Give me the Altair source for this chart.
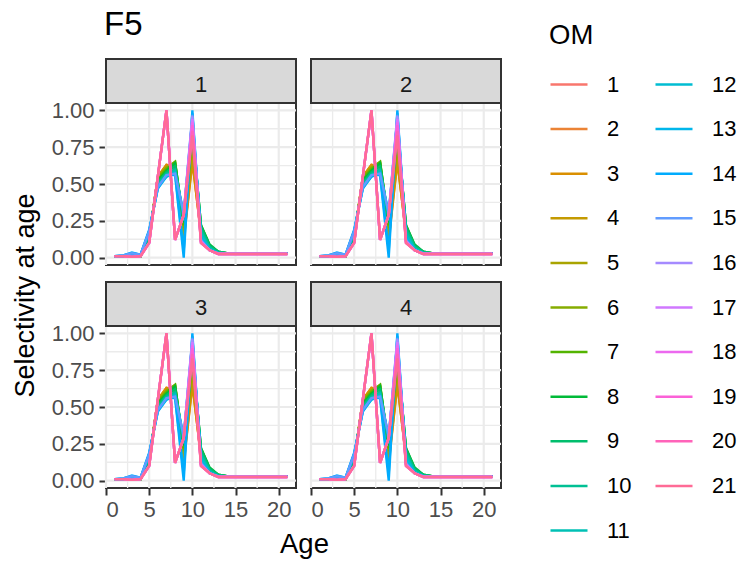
import math
import altair as alt
import pandas as pd

# ---------------- data ----------------
ages = list(range(1, 22))
panels = ["1", "2", "3", "4"]
om_labels = [str(i) for i in range(1, 22)]

om01 = [0.01, 0.01, 0.010, 0.010, 0.12, 0.54, 0.62, 0.60, 0.14, 0.68, 0.16, 0.06, 0.030, 0.03, 0.03, 0.03, 0.03, 0.03, 0.03, 0.03, 0.03]
om02 = [0.01, 0.01, 0.010, 0.010, 0.12, 0.55, 0.63, 0.61, 0.13, 0.66, 0.16, 0.06, 0.030, 0.03, 0.03, 0.03, 0.03, 0.03, 0.03, 0.03, 0.03]
om03 = [0.01, 0.01, 0.010, 0.010, 0.12, 0.55, 0.63, 0.62, 0.12, 0.65, 0.17, 0.06, 0.030, 0.03, 0.03, 0.03, 0.03, 0.03, 0.03, 0.03, 0.03]
om04 = [0.01, 0.01, 0.010, 0.010, 0.13, 0.55, 0.62, 0.63, 0.15, 0.72, 0.18, 0.07, 0.030, 0.03, 0.03, 0.03, 0.03, 0.03, 0.03, 0.03, 0.03]
om05 = [0.01, 0.01, 0.015, 0.010, 0.13, 0.54, 0.61, 0.64, 0.18, 0.76, 0.19, 0.07, 0.030, 0.03, 0.03, 0.03, 0.03, 0.03, 0.03, 0.03, 0.03]
om06 = [0.01, 0.01, 0.015, 0.010, 0.14, 0.54, 0.61, 0.65, 0.20, 0.80, 0.20, 0.08, 0.035, 0.03, 0.03, 0.03, 0.03, 0.03, 0.03, 0.03, 0.03]
om07 = [0.01, 0.01, 0.020, 0.010, 0.14, 0.53, 0.60, 0.65, 0.22, 0.84, 0.22, 0.08, 0.040, 0.03, 0.03, 0.03, 0.03, 0.03, 0.03, 0.03, 0.03]
om08 = [0.01, 0.01, 0.020, 0.010, 0.15, 0.52, 0.59, 0.64, 0.24, 0.86, 0.22, 0.09, 0.040, 0.03, 0.03, 0.03, 0.03, 0.03, 0.03, 0.03, 0.03]
om09 = [0.01, 0.01, 0.020, 0.010, 0.15, 0.51, 0.58, 0.62, 0.25, 0.88, 0.21, 0.08, 0.040, 0.03, 0.03, 0.03, 0.03, 0.03, 0.03, 0.03, 0.03]
om10 = [0.01, 0.01, 0.020, 0.015, 0.16, 0.50, 0.57, 0.60, 0.26, 0.90, 0.19, 0.07, 0.035, 0.03, 0.03, 0.03, 0.03, 0.03, 0.03, 0.03, 0.03]
om11 = [0.01, 0.01, 0.025, 0.015, 0.17, 0.49, 0.56, 0.59, 0.28, 0.92, 0.17, 0.06, 0.030, 0.03, 0.03, 0.03, 0.03, 0.03, 0.03, 0.03, 0.03]
om12 = [0.01, 0.01, 0.030, 0.015, 0.18, 0.48, 0.55, 0.58, 0.30, 0.94, 0.15, 0.06, 0.030, 0.03, 0.03, 0.03, 0.03, 0.03, 0.03, 0.03, 0.03]
om13 = [0.01, 0.015, 0.030, 0.020, 0.18, 0.47, 0.55, 0.57, 0.05, 0.98, 0.13, 0.05, 0.030, 0.03, 0.03, 0.03, 0.03, 0.03, 0.03, 0.03, 0.03]
om14 = [0.01, 0.015, 0.035, 0.020, 0.19, 0.47, 0.56, 0.56, 0.00, 1.00, 0.12, 0.05, 0.030, 0.03, 0.03, 0.03, 0.03, 0.03, 0.03, 0.03, 0.03]
om15 = [0.01, 0.015, 0.030, 0.020, 0.18, 0.48, 0.56, 0.57, 0.30, 0.97, 0.12, 0.05, 0.030, 0.03, 0.03, 0.03, 0.03, 0.03, 0.03, 0.03, 0.03]
om16 = [0.01, 0.01, 0.005, 0.010, 0.10, 0.55, 1.00, 0.12, 0.29, 0.96, 0.11, 0.05, 0.025, 0.025, 0.025, 0.025, 0.025, 0.025, 0.025, 0.025, 0.025]
om17 = [0.01, 0.01, 0.005, 0.010, 0.10, 0.55, 1.00, 0.12, 0.29, 0.94, 0.11, 0.05, 0.025, 0.025, 0.025, 0.025, 0.025, 0.025, 0.025, 0.025, 0.025]
om18 = [0.01, 0.01, 0.005, 0.010, 0.10, 0.55, 1.00, 0.12, 0.29, 0.92, 0.10, 0.05, 0.025, 0.025, 0.025, 0.025, 0.025, 0.025, 0.025, 0.025, 0.025]
om19 = [0.01, 0.01, 0.005, 0.010, 0.10, 0.55, 1.00, 0.12, 0.29, 0.90, 0.10, 0.05, 0.025, 0.025, 0.025, 0.025, 0.025, 0.025, 0.025, 0.025, 0.025]
om20 = [0.01, 0.01, 0.005, 0.010, 0.10, 0.55, 1.00, 0.12, 0.29, 0.86, 0.10, 0.05, 0.025, 0.025, 0.025, 0.025, 0.025, 0.025, 0.025, 0.025, 0.025]
om21 = [0.01, 0.01, 0.005, 0.010, 0.10, 0.55, 1.00, 0.12, 0.29, 0.83, 0.10, 0.05, 0.025, 0.025, 0.025, 0.025, 0.025, 0.025, 0.025, 0.025, 0.025]

series = [om01, om02, om03, om04, om05, om06, om07, om08, om09, om10, om11,
          om12, om13, om14, om15, om16, om17, om18, om19, om20, om21]

x_ticks = [0, 5, 10, 15, 20]
x_minor = [2.5, 7.5, 12.5, 17.5]
y_ticks = [0, 0.25, 0.5, 0.75, 1.0]
y_minor = [0.125, 0.375, 0.625, 0.875]

rows = []
for p in panels:
    for k, vals in enumerate(series):
        for a, v in zip(ages, vals):
            rows.append({"panel": p, "OM": om_labels[k], "Age": a, "Sel": v})
df = pd.DataFrame(rows)


# ---------------- ggplot hue palette ----------------
def hcl_hex(h, c=100.0, l=65.0):
    wy, wu, wv = 100.0, 0.1978398, 0.4683363
    hr = math.radians(h)
    U, V = c * math.cos(hr), c * math.sin(hr)
    Y = wy * ((l + 16) / 116) ** 3
    u = U / (13 * l) + wu
    v = V / (13 * l) + wv
    X = 9.0 * Y * u / (4 * v)
    Z = -X / 3 - 5 * Y + 3 * Y / v

    def g(t):
        t = t / wy
        t = 12.92 * t if t <= 0.0031308 else 1.055 * t ** (1 / 2.4) - 0.055
        return max(0, min(255, int(round(255 * max(0.0, min(1.0, t))))))

    r = g(3.240479 * X - 1.537150 * Y - 0.498535 * Z)
    gg = g(-0.969256 * X + 1.875992 * Y + 0.041556 * Z)
    b = g(0.055648 * X - 0.204043 * Y + 1.057311 * Z)
    return "#%02X%02X%02X" % (r, gg, b)


n = len(om_labels)
colors = [hcl_hex(15 + i * 360.0 / n) for i in range(n)]

# ---------------- styling ----------------
FONT = "Liberation Sans"
W, H, STRIP = 190, 162, 44
GRID = "#EBEBEB"
DARK = "#333333"

xs = alt.Scale(domain=[0, 22], nice=False, zero=False)
ys = alt.Scale(domain=[-0.05, 1.05], nice=False, zero=False)

legend = alt.Legend(
    title="OM", orient="none", legendX=443, legendY=-81, columns=2,
    symbolType="stroke", symbolStrokeWidth=2.5, symbolSize=1369,
    labelFontSize=22, labelColor="#000000", labelFont=FONT, labelOffset=18,
    titleFontSize=27.5, titleFontWeight="normal", titleColor="#000000", titleFont=FONT,
    titlePadding=15, rowPadding=13.6, columnPadding=18, padding=0,
)


def x_axis(show, title):
    if not show:
        return None
    kw = dict(values=x_ticks, grid=False, domain=False, tickColor=DARK, tickSize=7,
              tickWidth=2, labelFontSize=22, labelColor="#4D4D4D", labelFont=FONT,
              labelPadding=4)
    if title:
        kw.update(title="Age", titleFontSize=27.5, titleFontWeight="normal",
                  titleColor="#000000", titleFont=FONT, titleX=198, titleY=64,
                  titleAlign="center", titleBaseline="alphabetic")
    else:
        kw.update(title=None)
    return alt.Axis(**kw)


def y_axis(show, title):
    if not show:
        return None
    kw = dict(values=y_ticks, format=".2f", grid=False, domain=False, tickColor=DARK,
              tickSize=7, tickWidth=2, labelFontSize=22, labelColor="#4D4D4D",
              labelFont=FONT, labelPadding=5)
    if title:
        kw.update(title="Selectivity at age", titleFontSize=27, titleFontWeight="normal",
                  titleColor="#000000", titleFont=FONT, titleX=-73, titleY=-31,
                  titleAlign="center", titleBaseline="alphabetic", titleAngle=270)
    else:
        kw.update(title=None)
    return alt.Axis(**kw)


def panel(p, show_x, show_y, x_title=False, y_title=False, plot_title=False):
    xa = x_axis(show_x, x_title)
    ya = y_axis(show_y, y_title)

    def X(field):
        return alt.X(field, scale=xs, axis=xa) if xa is not None else alt.X(field, scale=xs, axis=None)

    def Y(field):
        return alt.Y(field, scale=ys, axis=ya) if ya is not None else alt.Y(field, scale=ys, axis=None)

    gx_min = alt.Chart(pd.DataFrame({"v": x_minor})).mark_rule(color=GRID, strokeWidth=1.3).encode(x=X("v:Q"))
    gx_maj = alt.Chart(pd.DataFrame({"v": x_ticks})).mark_rule(color=GRID, strokeWidth=2.2).encode(x=X("v:Q"))
    gy_min = alt.Chart(pd.DataFrame({"v": y_minor})).mark_rule(color=GRID, strokeWidth=1.3).encode(y=Y("v:Q"))
    gy_maj = alt.Chart(pd.DataFrame({"v": y_ticks})).mark_rule(color=GRID, strokeWidth=2.2).encode(y=Y("v:Q"))

    lines = alt.Chart(df).transform_filter(alt.datum.panel == p).mark_line(strokeWidth=2.4).encode(
        x=X("Age:Q"),
        y=Y("Sel:Q"),
        color=alt.Color("OM:N", scale=alt.Scale(domain=om_labels, range=colors), legend=legend),
    )

    one = pd.DataFrame({"panel": [p]})
    strip = alt.Chart(one).mark_rect(fill="#D9D9D9", stroke=DARK, strokeWidth=2).encode(
        x=alt.value(0), x2=alt.value(W), y=alt.value(-STRIP), y2=alt.value(0)
    )
    strip_txt = alt.Chart(one).mark_text(fontSize=22, font=FONT, color="#1A1A1A",
                                         align="center", baseline="alphabetic").encode(
        x=alt.value(W / 2), y=alt.value(-11), text="panel:N"
    )
    layers = [gx_min, gx_maj, gy_min, gy_maj, lines, strip, strip_txt]
    if plot_title:
        ttl = alt.Chart(pd.DataFrame({"t": ["F5"]})).mark_text(
            fontSize=33, font=FONT, color="#000000", align="left", baseline="alphabetic"
        ).encode(x=alt.value(-2), y=alt.value(-68), text="t:N")
        layers.append(ttl)
    return alt.layer(*layers).properties(width=W, height=H)


chart = alt.concat(
    panel("1", False, True, plot_title=True),
    panel("2", False, False),
    panel("3", True, True, x_title=True, y_title=True),
    panel("4", True, False),
    columns=2,
    spacing=alt.RowColnumber(row=61, column=15),
    bounds="flush",
).properties(
    padding={"left": 9, "top": 8, "right": 0, "bottom": 0}
).configure(font=FONT).configure_view(stroke=DARK, strokeWidth=2)

chart.save("out.html", embed_options={"renderer": "svg", "actions": False})
